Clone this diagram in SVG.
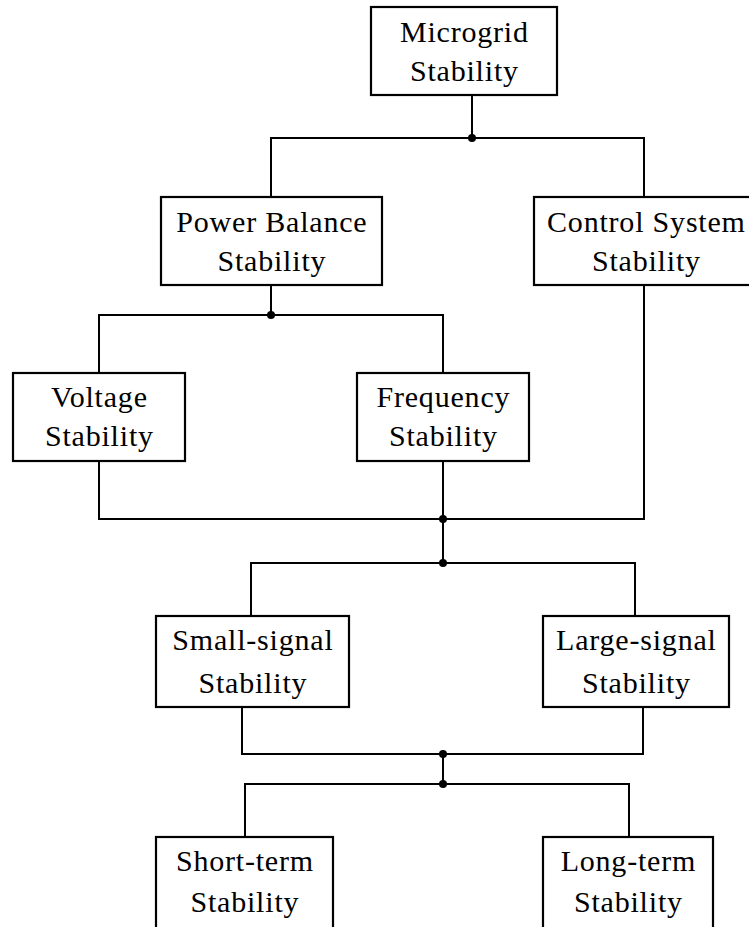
<svg xmlns="http://www.w3.org/2000/svg" width="749" height="927" viewBox="0 0 749 927">
<style>
.box{fill:#fff;stroke:#000;stroke-width:2.2}
.ln{fill:none;stroke:#000;stroke-width:2}
.dot{fill:#000}
text{font-family:"Liberation Serif","DejaVu Serif",serif;font-size:30px;letter-spacing:0.8px;text-anchor:middle;fill:#000}
</style>
<rect width="749" height="927" fill="#fff"/>
<g id="connectors">
<path class="ln" d="M472,95 V138 M271,197 V138 H644 V197"/>
<path class="ln" d="M271,285 V315 M99,373 V315 H443 V373"/>
<path class="ln" d="M99,461 V519 H644 V285 M443,461 V563 M251,616 V563 H635 V616"/>
<path class="ln" d="M242,707 V754 H643 V707 M443,754 V784 M245,837 V784 H629 V837"/>
<circle class="dot" cx="472" cy="138" r="4"/>
<circle class="dot" cx="271" cy="315" r="4"/>
<circle class="dot" cx="443" cy="519" r="4"/>
<circle class="dot" cx="443" cy="563" r="4"/>
<circle class="dot" cx="443" cy="754" r="4"/>
<circle class="dot" cx="443" cy="784" r="4"/>
</g>
<g id="microgrid"><rect class="box" x="371" y="7" width="186" height="88"/><text x="464.4" y="42">Microgrid</text><text x="464.4" y="81">Stability</text></g>
<g id="power"><rect class="box" x="161" y="197" width="221" height="88"/><text x="271.9" y="232">Power Balance</text><text x="271.9" y="271">Stability</text></g>
<g id="control"><rect class="box" x="534" y="197" width="224" height="88"/><text x="646.4" y="232">Control System</text><text x="646.4" y="271">Stability</text></g>
<g id="voltage"><rect class="box" x="13" y="373" width="172" height="88"/><text x="99.4" y="407">Voltage</text><text x="99.4" y="446">Stability</text></g>
<g id="frequency"><rect class="box" x="357" y="373" width="172" height="88"/><text x="443.4" y="407">Frequency</text><text x="443.4" y="446">Stability</text></g>
<g id="small"><rect class="box" x="156" y="616" width="193" height="91"/><text x="252.9" y="650">Small-signal</text><text x="252.9" y="693">Stability</text></g>
<g id="large"><rect class="box" x="543" y="616" width="186" height="91"/><text x="636.4" y="650">Large-signal</text><text x="636.4" y="693">Stability</text></g>
<g id="short"><rect class="box" x="156" y="837" width="177" height="100"/><text x="244.9" y="871">Short-term</text><text x="244.9" y="912">Stability</text></g>
<g id="long"><rect class="box" x="543" y="837" width="170" height="100"/><text x="628.4" y="871">Long-term</text><text x="628.4" y="912">Stability</text></g>
</svg>
